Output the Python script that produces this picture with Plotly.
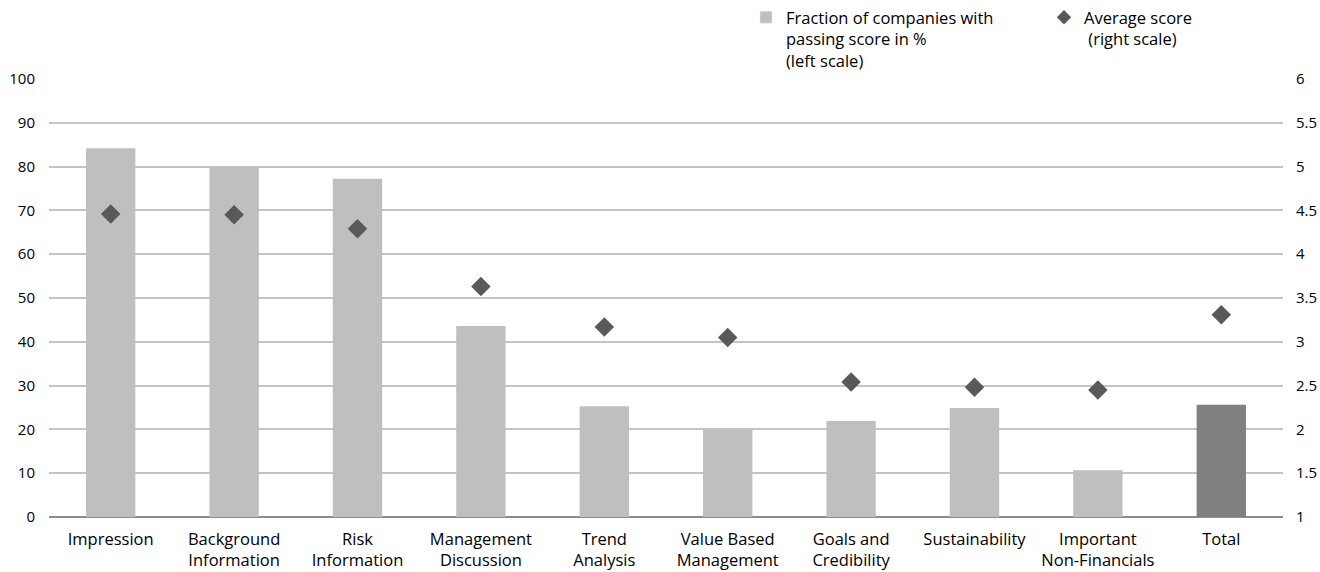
import plotly.graph_objects as go

categories = ["Impression", "Background<br>Information", "Risk<br>Information", "Management<br>Discussion",
              "Trend<br>Analysis", "Value Based<br>Management", "Goals and<br>Credibility", "Sustainability",
              "Important<br>Non-Financials", "Total"]
fraction_passing = [84.2, 80.0, 77.2, 43.6, 25.3, 20.0, 21.9, 24.9, 10.7, 25.6]
average_score = [4.46, 4.45, 4.29, 3.63, 3.17, 3.05, 2.54, 2.48, 2.45, 3.31]
bar_colors = ["#bfbfbf"] * 9 + ["#808080"]
left_ticks = list(range(0, 101, 10))
right_ticks = [1, 1.5, 2, 2.5, 3, 3.5, 4, 4.5, 5, 5.5, 6]

font = "Open Sans"
bar_name = "Fraction of companies with<br>passing score in %<br>(left scale)"
score_name = "Average score<br> (right scale)"

fig = go.Figure()
fig.add_trace(go.Bar(
    x=categories, y=fraction_passing, marker=dict(color=bar_colors, line=dict(width=0)),
    name=bar_name, yaxis="y", showlegend=False,
))
fig.add_trace(go.Scatter(
    x=categories, y=average_score, mode="markers",
    marker=dict(symbol="diamond", size=15, color="#595959"),
    name=score_name, yaxis="y2", showlegend=False,
))
# legend entries
fig.add_trace(go.Bar(
    x=[categories[0]], y=[None], marker=dict(color="#bfbfbf"),
    name=bar_name, yaxis="y", legend="legend",
))
fig.add_trace(go.Scatter(
    x=[categories[0]], y=[None], mode="markers",
    marker=dict(symbol="diamond", size=11, color="#595959"),
    name=score_name, yaxis="y2", legend="legend2",
))

fig.update_layout(
    width=1320, height=572,
    margin=dict(l=49, r=37, t=79, b=55, autoexpand=False),
    paper_bgcolor="white", plot_bgcolor="white",
    font=dict(family=font, size=15, color="#000000"),
    bargap=0.6, barmode="overlay",
    xaxis=dict(range=[-0.5, 9.5], showgrid=False, showline=False, ticks="", tickfont=dict(size=16.5),
               automargin=False, ticklabelstandoff=10, categoryorder="array", categoryarray=categories),
    yaxis=dict(range=[0, 100], tickvals=left_ticks, showgrid=True, gridcolor="#c4c4c4", gridwidth=1.5,
               zeroline=True, zerolinecolor="#8c8c8c", zerolinewidth=2, showline=False, automargin=False,
               ticks="", ticklabelstandoff=13, tickfont=dict(size=15)),
    yaxis2=dict(range=[1, 6], tickvals=right_ticks, ticktext=[str(t) for t in right_ticks],
                overlaying="y", side="right", showgrid=False, zeroline=False, showline=False,
                automargin=False, ticks="", ticklabelstandoff=12, tickfont=dict(size=15)),
    legend=dict(orientation="h", x=746 / 1320, xanchor="left", xref="container",
                y=1.0, yanchor="top", yref="container", valign="top",
                font=dict(size=16.5), bgcolor="rgba(0,0,0,0)"),
    legend2=dict(orientation="h", x=1044 / 1320, xanchor="left", xref="container",
                 y=1.0, yanchor="top", yref="container", valign="top",
                 font=dict(size=16.5), bgcolor="rgba(0,0,0,0)"),
)

fig.write_html("out.html")
